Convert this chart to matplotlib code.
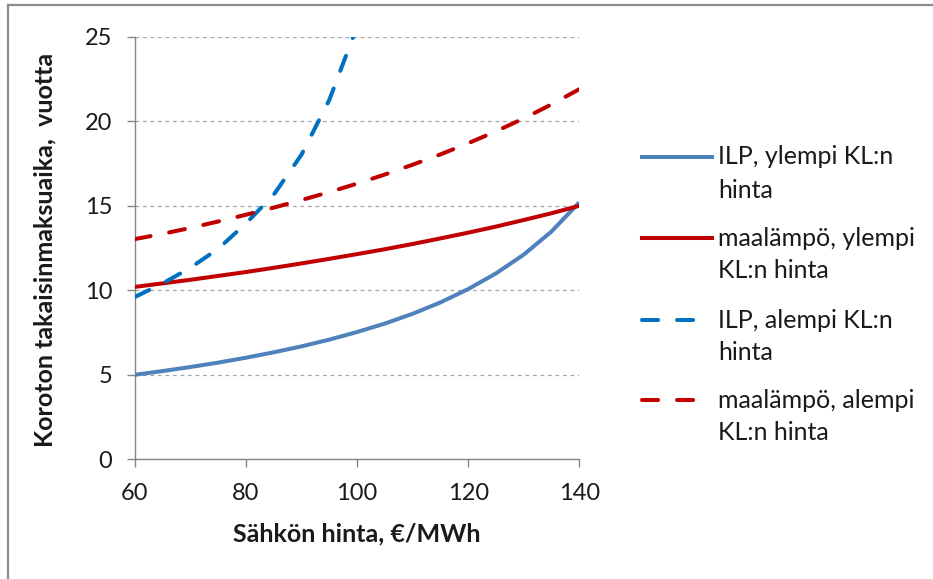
import matplotlib.pyplot as plt
from matplotlib.lines import Line2D

plt.rcParams['font.family'] = ['Lato', 'DejaVu Sans']

# electricity price, EUR/MWh
price = [60, 65, 70, 75, 80, 85, 90, 95, 100, 105, 110, 115, 120, 125, 130, 135, 140]
price_ilp_low = [60, 65, 70, 75, 80, 85, 90, 95, 100]

# simple payback time, years
ilp_high = [5.00, 5.22, 5.46, 5.72, 6.01, 6.33, 6.68, 7.08, 7.53, 8.03, 8.61, 9.28,
            10.07, 11.00, 12.11, 13.48, 15.20]
maa_high = [10.20, 10.41, 10.62, 10.85, 11.08, 11.33, 11.59, 11.86, 12.14, 12.43, 12.74,
            13.07, 13.41, 13.77, 14.16, 14.56, 15.00]
ilp_low = [9.60, 10.40, 11.33, 12.45, 13.95, 15.65, 18.02, 21.25, 25.60]
maa_low = [13.03, 13.34, 13.69, 14.07, 14.47, 14.89, 15.34, 15.81, 16.31, 16.85, 17.43,
           18.04, 18.70, 19.41, 20.17, 21.00, 21.90]

labels = ['ILP, ylempi KL:n\nhinta', 'maalämpö, ylempi\nKL:n hinta',
          'ILP, alempi KL:n\nhinta', 'maalämpö, alempi\nKL:n hinta']

xticks = [60, 80, 100, 120, 140]
yticks = [0, 5, 10, 15, 20, 25]

W, H = 933, 579
fig = plt.figure(figsize=(W / 100, H / 100), dpi=100)
ax = fig.add_axes([134.7 / W, 1 - 459.3 / H, (579.3 - 134.7) / W, (459.3 - 36.8) / H])

dash = (4, 4.7)
series = [
    (price, ilp_high, '#4F81BD', '-'),
    (price, maa_high, '#C00000', '-'),
    (price_ilp_low, ilp_low, '#0070C0', '--'),
    (price, maa_low, '#C00000', '--'),
]
for xs, ys, col, ls in series:
    if ls == '--':
        ax.plot(xs, ys, color=col, lw=2.9, dashes=dash, dash_capstyle='round',
                solid_joinstyle='round', zorder=3)
    else:
        ax.plot(xs, ys, color=col, lw=2.9, solid_capstyle='butt',
                solid_joinstyle='round', zorder=3)

ax.set_xlim(60, 140)
ax.set_ylim(0, 25)
ax.set_xticks(xticks)
ax.set_yticks(yticks)
ax.yaxis.grid(True, color='#A6A6A6', lw=0.9, dashes=(3, 3))
ax.set_axisbelow(True)

for s in ['top', 'right']:
    ax.spines[s].set_visible(False)
for s in ['left', 'bottom']:
    ax.spines[s].set_color('#868686')
    ax.spines[s].set_linewidth(1.0)

ax.tick_params(axis='both', direction='out', length=6, width=1, color='#868686',
               labelsize=17, labelcolor='#1a1a1a')
ax.tick_params(axis='y', pad=10)
ax.tick_params(axis='x', pad=11)

fig.text(357 / W, 1 - 534 / H, 'Sähkön hinta, €/MWh', ha='center', va='center',
         fontsize=18, fontweight='bold', color='#1a1a1a')
fig.text(45 / W, 1 - 250 / H, 'Koroton takaisinmaksuaika,  vuotta', ha='center', va='center',
         rotation=90, fontsize=18, fontweight='bold', color='#1a1a1a')

# legend, drawn by hand to match the spreadsheet layout
entry_y = [157, 238, 320, 400]
for (xs, ys, col, ls), lab, yy in zip(series, labels, entry_y):
    ln = Line2D([642 / W, 712 / W], [1 - yy / H, 1 - yy / H], transform=fig.transFigure,
                color=col, lw=2.9)
    if ls == '--':
        ln.set_dashes(dash)
        ln.set_dash_capstyle('round')
    fig.add_artist(ln)
    for k, part in enumerate(lab.split('\n')):
        fig.text(718 / W, 1 - (yy + 33 * k) / H, part, ha='left', va='center',
                 fontsize=18, color='#1a1a1a')

# chart area border (only top and left edges are visible in the crop)
fig.add_artist(Line2D([8 / W, 8 / W], [0, 1 - 5 / H], transform=fig.transFigure,
                      color='#8C8C8C', lw=1.6))
fig.add_artist(Line2D([8 / W, 1], [1 - 5 / H, 1 - 5 / H], transform=fig.transFigure,
                      color='#8C8C8C', lw=1.6))

fig.savefig('out.png', dpi=100)
